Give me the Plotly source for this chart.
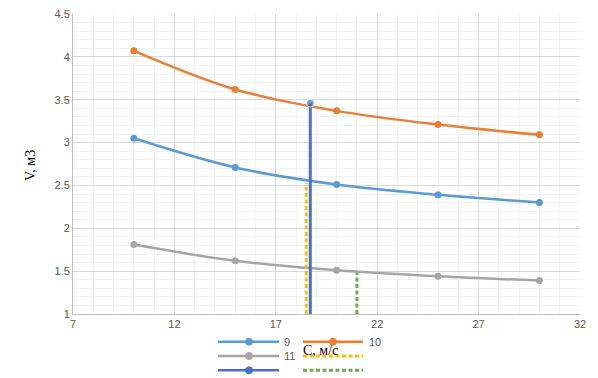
import plotly.graph_objects as go

# ---- data ----
x_vals = [10, 15, 20, 25, 30]
s9 = [3.05, 2.71, 2.51, 2.39, 2.30]
s10 = [4.07, 3.62, 3.37, 3.21, 3.09]
s11 = [1.81, 1.62, 1.51, 1.44, 1.39]

vline_blue_x = [18.7, 18.7]
vline_blue_y = [1.0, 3.46]
vline_yellow_x = [18.5, 18.5]
vline_yellow_y = [1.0, 2.53]
vline_green_x = [21.0, 21.0]
vline_green_y = [1.0, 1.48]

x_title = "С, м/с"
y_title = "V, м3"
legend_names = ["9", "10", "11", "", "", ""]

# ---- layout constants ----
W, H = 598, 378
ML, MR, MT, MB = 73, 18, 14, 64
PW, PH = W - ML - MR, H - MT - MB

C9, C10, C11 = "#5B9BD5", "#ED7D31", "#A5A5A5"
CY, CB, CG = "#FFC000", "#4472C4", "#70AD47"
TICKFONT = dict(family="Liberation Sans, Arial, sans-serif", size=11, color="#595959")
SERIF = dict(family="Liberation Serif, Times New Roman, serif", size=14, color="#000000")


def px_x(p):
    return (p - ML) / PW


def px_y(p):
    return (H - MB - p) / PH


fig = go.Figure()

for ys, col, nm in [(s9, C9, legend_names[0]), (s10, C10, legend_names[1]), (s11, C11, legend_names[2])]:
    fig.add_trace(go.Scatter(
        x=x_vals, y=ys, mode="lines+markers", name=nm,
        line=dict(color=col, width=2.5, shape="spline", smoothing=1),
        marker=dict(color=col, size=7), showlegend=False,
    ))

fig.add_trace(go.Scatter(x=vline_yellow_x, y=vline_yellow_y, mode="lines",
                         line=dict(color=CY, width=3, dash="4px,2.5px"), showlegend=False))
fig.add_trace(go.Scatter(x=vline_green_x, y=vline_green_y, mode="lines",
                         line=dict(color=CG, width=3, dash="4px,2.5px"), showlegend=False))
fig.add_trace(go.Scatter(x=vline_blue_x, y=vline_blue_y, mode="lines+markers",
                         line=dict(color=CB, width=3),
                         marker=dict(color=CB, size=[0, 8]), showlegend=False))

# ---- manual legend (Excel style) ----
shapes = []
annotations = []
rows = [341.7, 356.0, 370.3]
cols = [(218, 279, 249, 282), (303, 363, 333, 367)]
entries = [
    (0, 0, C9, "solid", True, legend_names[0]),
    (0, 1, C10, "solid", True, legend_names[1]),
    (1, 0, C11, "solid", True, legend_names[2]),
    (1, 1, CY, "4px,2.5px", False, legend_names[3]),
    (2, 0, CB, "solid", True, legend_names[4]),
    (2, 1, CG, "4px,2.5px", False, legend_names[5]),
]
for r, c, col, dash, mk, nm in entries:
    x0, x1, xm, xt = cols[c]
    yy = px_y(rows[r])
    shapes.append(dict(type="line", xref="paper", yref="paper",
                       x0=px_x(x0), x1=px_x(x1), y0=yy, y1=yy,
                       line=dict(color=col, width=3 if dash != "solid" else 2.5, dash=dash)))
    if mk:
        shapes.append(dict(type="circle", xref="paper", yref="paper",
                           xsizemode="pixel", ysizemode="pixel",
                           xanchor=px_x(xm), yanchor=yy,
                           x0=-3.5, x1=3.5, y0=-3.5, y1=3.5,
                           fillcolor=col, line=dict(color=col, width=1)))
    if nm:
        annotations.append(dict(text=nm, xref="paper", yref="paper", x=px_x(xt), y=yy,
                                xanchor="left", yanchor="middle", showarrow=False,
                                font=TICKFONT))

annotations.append(dict(text=x_title, xref="paper", yref="paper", x=px_x(320), y=px_y(350),
                        xanchor="center", yanchor="middle", showarrow=False, font=SERIF))
annotations.append(dict(text=y_title, xref="paper", yref="paper", x=px_x(31), y=px_y(166),
                        xanchor="center", yanchor="middle", showarrow=False, font=SERIF,
                        textangle=-90))

fig.update_layout(
    width=W, height=H,
    margin=dict(l=ML, r=MR, t=MT, b=MB, autoexpand=False),
    paper_bgcolor="white", plot_bgcolor="white",
    showlegend=False, hovermode=False,
    shapes=shapes, annotations=annotations,
    xaxis=dict(range=[7, 32], tick0=7, dtick=5, showgrid=True, gridcolor="#D9D9D9", gridwidth=1,
               minor=dict(dtick=1, tick0=7, showgrid=True, gridcolor="#F2F2F2", gridwidth=1),
               showline=True, linecolor="#BFBFBF", linewidth=1, mirror=False,
               zeroline=False, tickfont=TICKFONT, ticks="", automargin=False),
    yaxis=dict(range=[1, 4.5], tick0=1, dtick=0.5, showgrid=True, gridcolor="#D9D9D9", gridwidth=1,
               minor=dict(dtick=0.1, tick0=1, showgrid=True, gridcolor="#F2F2F2", gridwidth=1),
               showline=True, linecolor="#BFBFBF", linewidth=1,
               zeroline=False, tickfont=TICKFONT, ticks="", tickformat="~g", automargin=False),
)

fig.write_html("out.html", config={"displayModeBar": False},
               post_script="document.body.style.margin='0';document.body.style.padding='0';")
